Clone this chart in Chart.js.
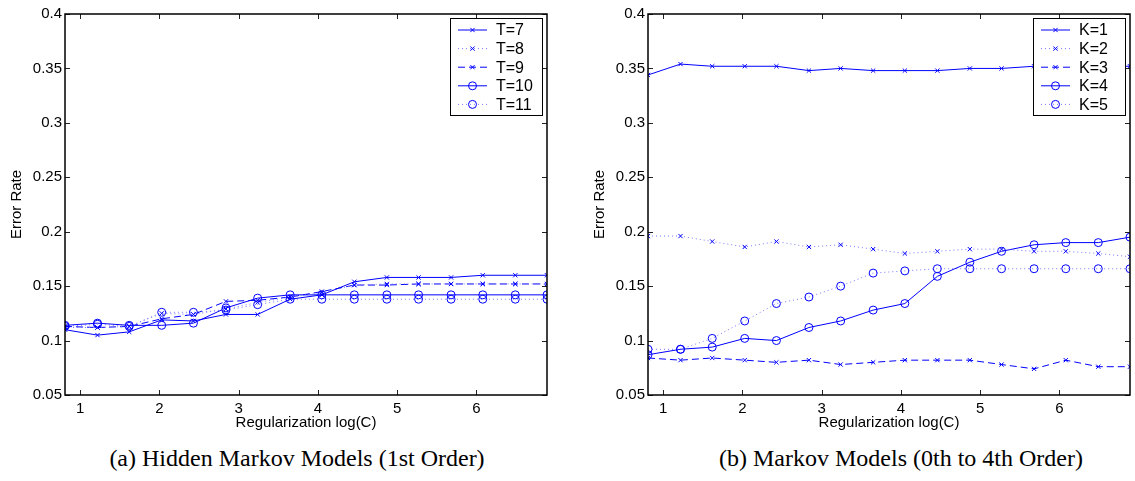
<!DOCTYPE html>
<html>
<head>
<meta charset="utf-8">
<script src="https://cdn.jsdelivr.net/npm/chart.js@4.4.0/dist/chart.umd.min.js"></script>
<style>
  body { margin: 0; background: #fff; width: 1135px; height: 481px; position: relative; overflow: hidden; }
  canvas { position: absolute; top: 0; }
  .cap { position: absolute; top: 446px; font: 24px "Liberation Serif", "Times New Roman", serif; line-height: 24px; text-align: center; color: #000; }
</style>
</head>
<body>
<canvas id="hmmChart" width="560" height="432" style="left:0px"></canvas>
<canvas id="mmChart" width="552" height="432" style="left:583px"></canvas>
<div class="cap" style="left:0px; width:594px;">(a) Hidden Markov Models (1st Order)</div>
<div class="cap" style="left:667px; width:468px;">(b) Markov Models (0th to 4th Order)</div>
<script>
// regularization log(C)
var xValues = [0.81, 1.22, 1.62, 2.03, 2.43, 2.84, 3.24, 3.65, 4.05, 4.46, 4.87, 5.27, 5.68, 6.08, 6.49, 6.89];
var xTicks = [1, 2, 3, 4, 5, 6];
var yTicks = [0.05, 0.1, 0.15, 0.2, 0.25, 0.3, 0.35, 0.4];

// left: hidden markov models
var hmmLabels = ["T=7", "T=8", "T=9", "T=10", "T=11"];
var t7  = [0.110, 0.105, 0.108, 0.119, 0.118, 0.124, 0.124, 0.138, 0.142, 0.154, 0.158, 0.158, 0.158, 0.160, 0.160, 0.160];
var t8  = [0.112, 0.112, 0.113, 0.125, 0.124, 0.129, 0.135, 0.140, 0.144, 0.151, 0.152, 0.152, 0.152, 0.152, 0.152, 0.152];
var t9  = [0.113, 0.112, 0.113, 0.120, 0.124, 0.136, 0.137, 0.140, 0.145, 0.151, 0.151, 0.152, 0.152, 0.152, 0.152, 0.152];
var t10 = [0.114, 0.116, 0.114, 0.114, 0.116, 0.130, 0.139, 0.142, 0.142, 0.142, 0.142, 0.142, 0.142, 0.142, 0.142, 0.142];
var t11 = [0.113, 0.115, 0.113, 0.126, 0.126, 0.128, 0.133, 0.138, 0.138, 0.138, 0.138, 0.138, 0.138, 0.138, 0.138, 0.138];

// right: markov models
var mmLabels = ["K=1", "K=2", "K=3", "K=4", "K=5"];
var k1 = [0.344, 0.354, 0.352, 0.352, 0.352, 0.348, 0.350, 0.348, 0.348, 0.348, 0.350, 0.350, 0.352, 0.352, 0.352, 0.352];
var k2 = [0.196, 0.196, 0.191, 0.186, 0.191, 0.186, 0.188, 0.184, 0.180, 0.182, 0.184, 0.184, 0.182, 0.182, 0.180, 0.177];
var k3 = [0.084, 0.082, 0.084, 0.082, 0.080, 0.082, 0.078, 0.080, 0.082, 0.082, 0.082, 0.078, 0.074, 0.082, 0.076, 0.076];
var k4 = [0.087, 0.092, 0.094, 0.102, 0.100, 0.112, 0.118, 0.128, 0.134, 0.159, 0.172, 0.182, 0.188, 0.190, 0.190, 0.195];
var k5 = [0.092, 0.092, 0.102, 0.118, 0.134, 0.140, 0.150, 0.162, 0.164, 0.166, 0.166, 0.166, 0.166, 0.166, 0.166, 0.166];

var blue = "#0000ff";
var lightBlue = "#7878ff";
var font = "'Liberation Sans', Arial, sans-serif";

// line style per series: solid x, dotted x, dashed x, solid o, dotted o
var styles = [
  {dash: [], color: blue, point: "crossRot", r: 3},
  {dash: [1, 3], color: lightBlue, point: "crossRot", r: 3},
  {dash: [7, 4], color: blue, point: "crossRot", r: 3},
  {dash: [], color: blue, point: "circle", r: 4},
  {dash: [1, 3], color: lightBlue, point: "circle", r: 4}
];

function makeSets(labels, series) {
  return series.map(function (ys, i) {
    var s = styles[i];
    return {
      label: labels[i],
      data: xValues.map(function (x, j) { return {x: x, y: ys[j]}; }),
      borderColor: s.color,
      borderWidth: 1,
      borderDash: s.dash,
      pointStyle: s.point,
      pointRadius: s.r,
      pointBorderColor: blue,
      pointBackgroundColor: "rgba(0,0,0,0)",
      pointBorderWidth: 1,
      tension: 0
    };
  });
}

// frame, inward ticks and boxed legend like the original figure
var framePlugin = {
  id: "frame",
  afterDatasetsDraw: function (chart) {
    var ctx = chart.ctx, a = chart.chartArea;
    var xs = chart.scales.x, ys = chart.scales.y;
    ctx.save();
    ctx.strokeStyle = "#222";
    ctx.lineWidth = 1;
    ctx.setLineDash([]);
    ctx.beginPath();
    xTicks.forEach(function (t) {
      var p = Math.round(xs.getPixelForValue(t)) + 0.5;
      ctx.moveTo(p, a.bottom); ctx.lineTo(p, a.bottom - 5);
      ctx.moveTo(p, a.top); ctx.lineTo(p, a.top + 5);
    });
    yTicks.forEach(function (t) {
      var p = Math.round(ys.getPixelForValue(t)) + 0.5;
      ctx.moveTo(a.left, p); ctx.lineTo(a.left + 5, p);
      ctx.moveTo(a.right, p); ctx.lineTo(a.right - 5, p);
    });
    ctx.stroke();
    ctx.strokeStyle = "#000";
    ctx.lineWidth = 1.5;
    ctx.strokeRect(a.left, a.top, a.right - a.left, a.bottom - a.top);

    // legend box
    var bw = 92, bh = 97;
    var bx = a.right - 5 - bw, by = a.top + 4;
    ctx.fillStyle = "#fff";
    ctx.fillRect(bx, by, bw, bh);
    ctx.lineWidth = 1;
    ctx.strokeStyle = "#000";
    ctx.strokeRect(Math.round(bx) + 0.5, Math.round(by) + 0.5, bw, bh);
    ctx.font = "16px " + font;
    ctx.textBaseline = "middle";
    chart.data.datasets.forEach(function (ds, i) {
      var yy = by + 12 + i * 18.6;
      ctx.strokeStyle = ds.borderColor;
      ctx.setLineDash(ds.borderDash);
      ctx.beginPath();
      ctx.moveTo(bx + 8, yy); ctx.lineTo(bx + 37, yy);
      ctx.stroke();
      ctx.setLineDash([]);
      ctx.strokeStyle = blue;
      ctx.fillStyle = "rgba(0,0,0,0)";
      Chart.helpers.drawPoint(ctx, {pointStyle: ds.pointStyle, radius: ds.pointRadius, rotation: 0, borderWidth: 1}, bx + 22.5, yy);
      ctx.fillStyle = "#000";
      ctx.fillText(ds.label, bx + 46, yy + 1);
    });
    ctx.restore();
  }
};

function makeChart(id, labels, series, rightPad) {
  return new Chart(id, {
    type: "line",
    data: { datasets: makeSets(labels, series) },
    options: {
      responsive: false,
      animation: false,
      layout: { padding: { left: 0, right: rightPad, top: 14, bottom: 0 } },
      plugins: { legend: { display: false }, tooltip: { enabled: false } },
      scales: {
        x: {
          type: "linear",
          min: 0.81,
          max: 6.89,
          afterBuildTicks: function (s) { s.ticks = xTicks.map(function (v) { return {value: v}; }); },
          afterFit: function (s) { s.height = 37; },
          grid: { display: false, drawTicks: false },
          border: { display: false },
          ticks: { color: "#000", font: { family: font, size: 15 }, padding: 5, maxRotation: 0 },
          title: { display: true, text: "Regularization log(C)", color: "#000", font: { family: font, size: 15 }, padding: { top: 0, bottom: 0 } }
        },
        y: {
          min: 0.05,
          max: 0.4,
          afterBuildTicks: function (s) { s.ticks = yTicks.map(function (v) { return {value: v}; }); },
          afterFit: function (s) { s.width = 65; },
          grid: { display: false, drawTicks: false },
          border: { display: false },
          ticks: {
            color: "#000", font: { family: font, size: 15 }, padding: 3,
            callback: function (v) { return String(Number(v.toFixed(2))); }
          },
          title: { display: true, text: "Error Rate", color: "#000", font: { family: font, size: 15 }, padding: { top: 8, bottom: 0 } }
        }
      }
    },
    plugins: [framePlugin]
  });
}

makeChart("hmmChart", hmmLabels, [t7, t8, t9, t10, t11], 13);
makeChart("mmChart", mmLabels, [k1, k2, k3, k4, k5], 4);
</script>
</body>
</html>
